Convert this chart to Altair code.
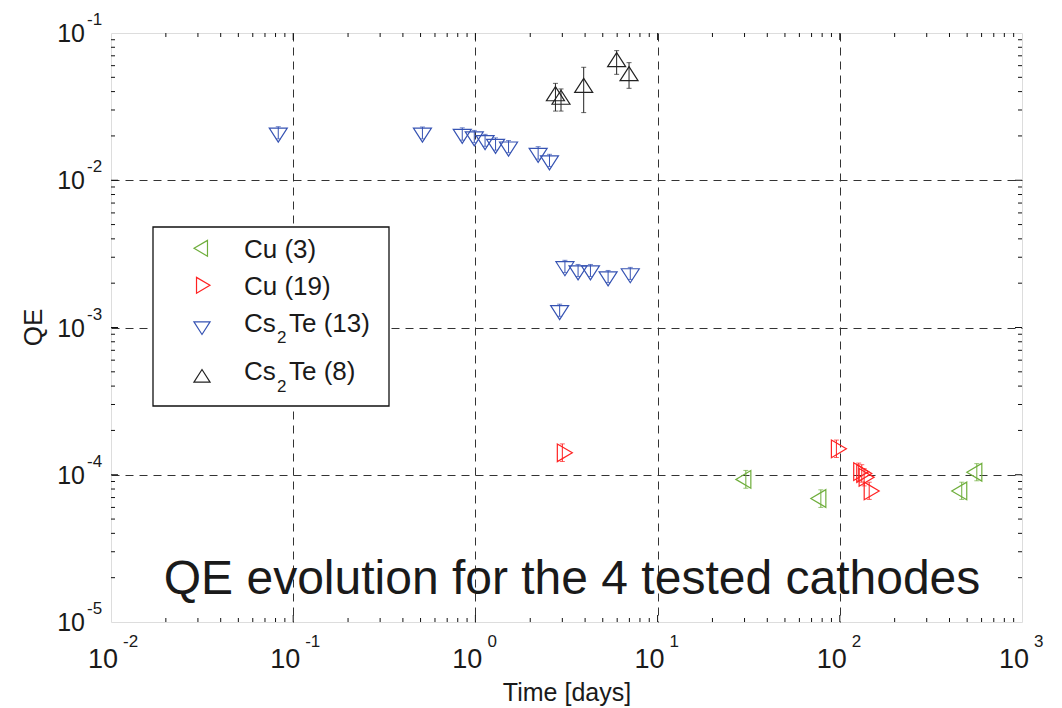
import altair as alt
import pandas as pd

# ---------------- data ----------------
# Cu (3): green, left-pointing triangles
cu3_t = [30.5, 78.7, 467, 565]
cu3_qe = [9.3e-5, 6.9e-5, 7.76e-5, 1.04e-4]
cu3_hi = [1.07e-4, 7.9e-5, 8.9e-5, 1.19e-4]
cu3_lo = [8.1e-5, 6.0e-5, 6.8e-5, 9.1e-5]

# Cu (19): red, right-pointing triangles
cu19_t = [3.00, 95.8, 127, 132, 136, 145]
cu19_qe = [1.41e-4, 1.50e-4, 1.05e-4, 1.02e-4, 9.6e-5, 7.76e-5]
cu19_hi = [1.62e-4, 1.72e-4, 1.20e-4, 1.17e-4, 1.10e-4, 8.9e-5]
cu19_lo = [1.23e-4, 1.31e-4, 9.1e-5, 8.9e-5, 8.4e-5, 6.8e-5]

# Cs2Te (13): blue, down triangles
cs13_t = [0.0828, 0.512, 0.847, 0.986, 1.13, 1.29, 1.52, 2.21, 2.55,
          3.10, 3.66, 4.28, 5.35, 7.08, 2.90]
cs13_qe = [0.0210, 0.0210, 0.0206, 0.0198, 0.0187, 0.0176, 0.0169, 0.0153, 0.0136,
           0.00260, 0.00244, 0.00244, 0.00222, 0.00233, 0.00131]
cs13_hi = [0.0231, 0.0230, 0.0227, 0.0218, 0.0205, 0.0194, 0.0186, 0.0169, 0.0150,
           0.00286, 0.00268, 0.00268, 0.00244, 0.00256, 0.00144]
cs13_lo = [0.0191, 0.0191, 0.0187, 0.0180, 0.0170, 0.0160, 0.0154, 0.0139, 0.0124,
           0.00236, 0.00222, 0.00222, 0.00202, 0.00212, 0.00119]

# Cs2Te (8): black, up triangles
cs8_t = [2.75, 2.95, 3.93, 5.96, 6.97]
cs8_qe = [0.0373, 0.0353, 0.0425, 0.0635, 0.0511]
cs8_hi = [0.0455, 0.0417, 0.0585, 0.0759, 0.0629]
cs8_lo = [0.0295, 0.0295, 0.0288, 0.0524, 0.0421]

# axis ticks / labels
x_ticks = [0.01, 0.1, 1, 10, 100, 1000]
x_exps = ["-2", "-1", "0", "1", "2", "3"]
y_ticks = [1e-5, 1e-4, 1e-3, 1e-2, 1e-1]
y_exps = ["-5", "-4", "-3", "-2", "-1"]
x_grid = [0.1, 1, 10, 100]
y_grid = [1e-4, 1e-3, 1e-2]
x_minor = [m * 10.0 ** d for d in range(-2, 3) for m in range(2, 10)]
y_minor = [m * 10.0 ** d for d in range(-5, -1) for m in range(2, 10)]

title_text = "QE evolution for the 4 tested cathodes"
title_pos = {"t": [3.39], "qe": [1.55e-5]}

# ---------------- styling ----------------
W, H = 911, 589
FONT = "Liberation Sans"
C_GREEN = "#6fae3c"
C_RED = "#ff2222"
C_BLUE = "#3653b3"
C_BLACK = "#222222"

SHAPE_DOWN = "M-1,-0.519L1,-0.519L0,1.037Z"
SHAPE_UP = "M-1,0.519L1,0.519L0,-1.037Z"
SHAPE_RIGHT = "M-0.556,-0.983L-0.556,0.983L1.111,0Z"
SHAPE_LEFT = "M0.556,-0.983L0.556,0.983L-1.111,0Z"
MSIZE = 324

xs = alt.Scale(type="log", domain=[0.01, 1000], nice=False)
ys = alt.Scale(type="log", domain=[1e-5, 0.1], nice=False)

x_axis = alt.Axis(values=x_grid, grid=True, gridDash=[8, 6], gridColor="#333333",
                  gridWidth=1, labels=False, ticks=False, domain=False,
                  title="Time [days]", titleFontSize=25, titleFont=FONT,
                  titleFontWeight="normal", titleColor="#1a1a1a",
                  titleY=78, titleBaseline="alphabetic")
y_axis = alt.Axis(values=y_grid, grid=True, gridDash=[8, 6], gridColor="#333333",
                  gridWidth=1, labels=False, ticks=False, domain=False,
                  title="QE", titleFontSize=26, titleFont=FONT,
                  titleFontWeight="normal", titleColor="#1a1a1a",
                  titleX=-70, titleY=294, titleBaseline="alphabetic", titleAngle=270)


def X(f):
    return alt.X(f, type="quantitative", scale=xs, axis=x_axis)


def Y(f):
    return alt.Y(f, type="quantitative", scale=ys, axis=y_axis)


def series(t, qe, lo, hi, shape, color):
    df = pd.DataFrame({"t": t, "qe": qe, "lo": lo, "hi": hi})
    base = alt.Chart(df)
    rule = base.mark_rule(color=color, strokeWidth=1).encode(x=X("t"), y=Y("lo"), y2="hi")
    cap_hi = base.mark_tick(orient="horizontal", size=5, thickness=1, color=color).encode(x=X("t"), y=Y("hi"))
    cap_lo = base.mark_tick(orient="horizontal", size=5, thickness=1, color=color).encode(x=X("t"), y=Y("lo"))
    pts = base.mark_point(shape=shape, size=MSIZE, filled=False, strokeWidth=1.2,
                          color=color, opacity=1).encode(x=X("t"), y=Y("qe"))
    return [rule, cap_hi, cap_lo, pts]


layers = []

# inward minor/major ticks on all four sides
xt_df = pd.DataFrame({"t": x_minor})
yt_df = pd.DataFrame({"qe": y_minor})
xM_df = pd.DataFrame({"t": x_grid})
yM_df = pd.DataFrame({"qe": y_grid})
tick_style = dict(color="#111111", strokeWidth=1)
layers += [
    alt.Chart(xt_df).mark_rule(**tick_style).encode(x=X("t"), y=alt.value(H), y2=alt.value(H - 4)),
    alt.Chart(xt_df).mark_rule(**tick_style).encode(x=X("t"), y=alt.value(0), y2=alt.value(4)),
    alt.Chart(yt_df).mark_rule(**tick_style).encode(y=Y("qe"), x=alt.value(0), x2=alt.value(4)),
    alt.Chart(yt_df).mark_rule(**tick_style).encode(y=Y("qe"), x=alt.value(W), x2=alt.value(W - 4)),
    alt.Chart(xM_df).mark_rule(**tick_style).encode(x=X("t"), y=alt.value(H), y2=alt.value(H - 7)),
    alt.Chart(xM_df).mark_rule(**tick_style).encode(x=X("t"), y=alt.value(0), y2=alt.value(7)),
    alt.Chart(yM_df).mark_rule(**tick_style).encode(y=Y("qe"), x=alt.value(0), x2=alt.value(7)),
    alt.Chart(yM_df).mark_rule(**tick_style).encode(y=Y("qe"), x=alt.value(W), x2=alt.value(W - 7)),
]

# data series
layers += series(cu3_t, cu3_qe, cu3_lo, cu3_hi, SHAPE_LEFT, C_GREEN)
layers += series(cu19_t, cu19_qe, cu19_lo, cu19_hi, SHAPE_RIGHT, C_RED)
layers += series(cs13_t, cs13_qe, cs13_lo, cs13_hi, SHAPE_DOWN, C_BLUE)
layers += series(cs8_t, cs8_qe, cs8_lo, cs8_hi, SHAPE_UP, C_BLACK)

# tick labels: "10" with superscript exponent
xl_df = pd.DataFrame({"t": x_ticks, "base": ["10"] * len(x_ticks), "exp": x_exps})
yl_df = pd.DataFrame({"qe": y_ticks, "base": ["10"] * len(y_ticks), "exp": y_exps})
lab = dict(font=FONT, color="#1a1a1a")
layers += [
    alt.Chart(xl_df).mark_text(align="right", baseline="alphabetic", dx=7, fontSize=27, **lab)
    .encode(x=X("t"), y=alt.value(H + 46), text="base:N"),
    alt.Chart(xl_df).mark_text(align="left", baseline="alphabetic", dx=12, fontSize=17, **lab)
    .encode(x=X("t"), y=alt.value(H + 25), text="exp:N"),
    alt.Chart(yl_df).mark_text(align="right", baseline="alphabetic", dy=9, fontSize=25, **lab)
    .encode(y=Y("qe"), x=alt.value(-26), text="base:N"),
    alt.Chart(yl_df).mark_text(align="left", baseline="alphabetic", dy=-8, fontSize=17, **lab)
    .encode(y=Y("qe"), x=alt.value(-24), text="exp:N"),
]

# big annotation
layers.append(
    alt.Chart(pd.DataFrame({**title_pos, "txt": [title_text]}))
    .mark_text(align="center", baseline="alphabetic", fontSize=48, **lab)
    .encode(x=X("t"), y=Y("qe"), text="txt:N")
)

# legend box
one = pd.DataFrame({"a": [0]})
layers.append(
    alt.Chart(one).mark_rect(fill="white", stroke="#111111", strokeWidth=1.3)
    .encode(x=alt.value(42), x2=alt.value(278), y=alt.value(194), y2=alt.value(373))
)
leg_markers = [
    (92, 215.3, SHAPE_LEFT, C_GREEN),
    (90, 252.3, SHAPE_RIGHT, C_RED),
    (91, 293.1, SHAPE_DOWN, C_BLUE),
    (91, 344.9, SHAPE_UP, C_BLACK),
]
for mx, my, shp, col in leg_markers:
    layers.append(
        alt.Chart(one).mark_point(shape=shp, size=260, filled=False, strokeWidth=1.2,
                                  color=col, opacity=1)
        .encode(x=alt.value(mx), y=alt.value(my))
    )
leg_texts = [
    (133, 225.3, "Cu (3)", 26),
    (133, 262, "Cu (19)", 26),
    (133, 298.7, "Cs", 26),
    (166, 310.3, "2", 17),
    (178, 298.7, "Te (13)", 26),
    (133, 347, "Cs", 26),
    (166, 358.7, "2", 17),
    (178, 347, "Te (8)", 26),
]
for tx, ty, txt, fs in leg_texts:
    layers.append(
        alt.Chart(one).mark_text(align="left", baseline="alphabetic", fontSize=fs, **lab)
        .encode(x=alt.value(tx), y=alt.value(ty), text=alt.value(txt))
    )

chart = (
    alt.layer(*layers)
    .properties(width=W, height=H, autosize="none",
                padding={"left": 111, "top": 33, "right": 40, "bottom": 86},
                background="white")
    .configure_view(stroke="#111111", strokeWidth=1.3)
    .configure(font=FONT)
)

chart.save("out.html", embed_options={"renderer": "svg", "actions": False})
